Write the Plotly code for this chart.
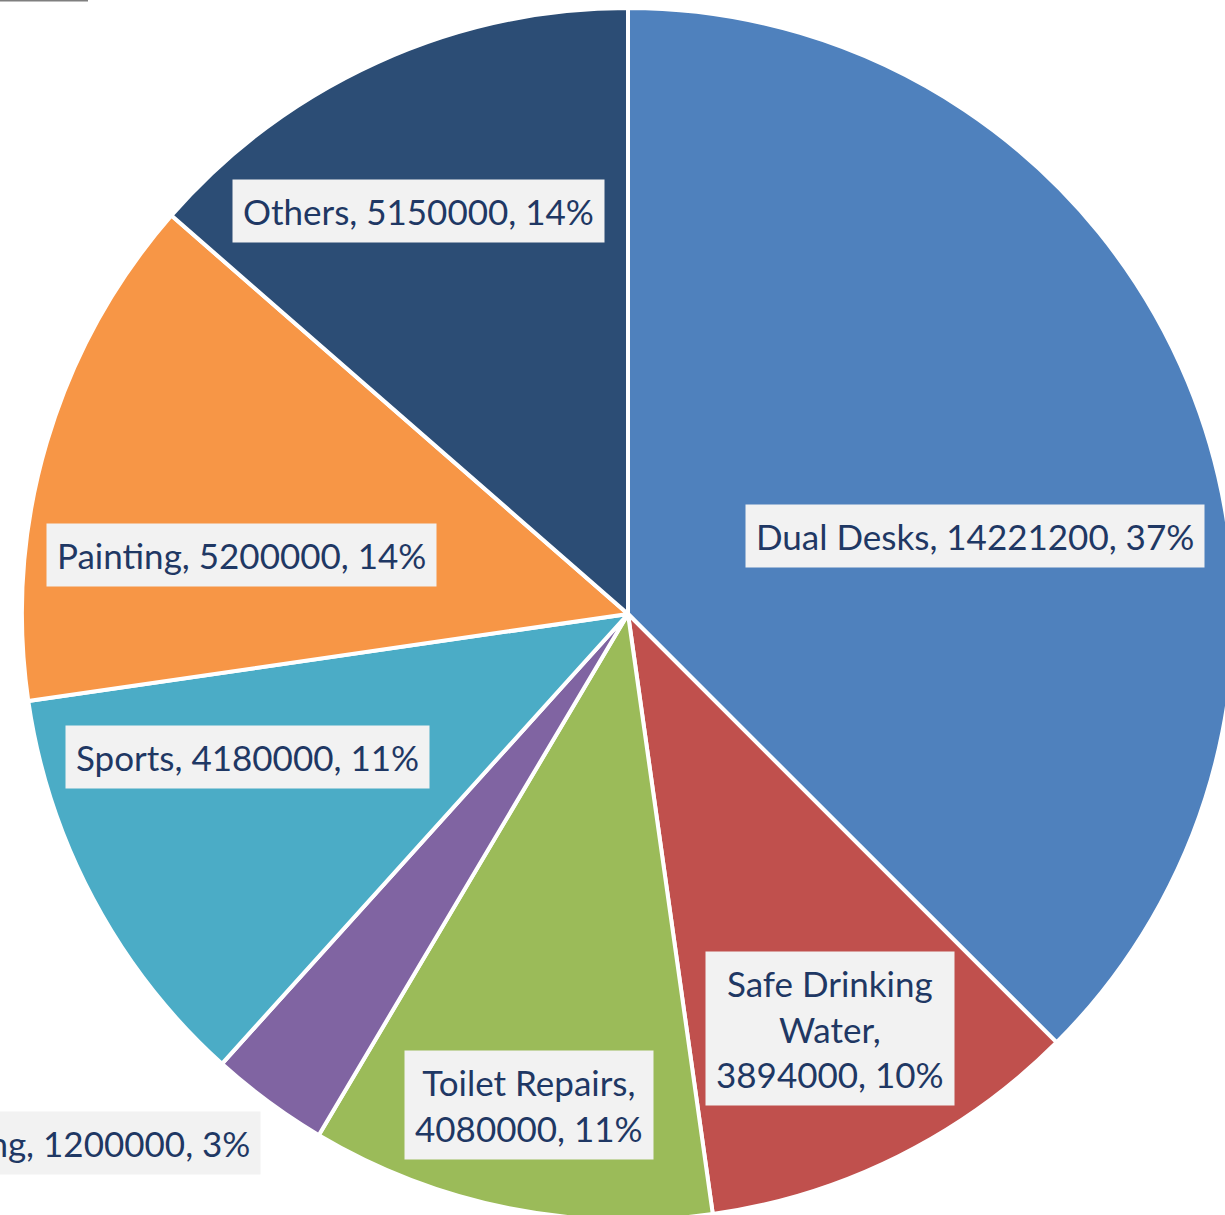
import plotly.graph_objects as go

# Data
categories = ["Dual Desks", "Safe Drinking Water", "Toilet Repairs", "Fencing",
              "Sports", "Painting", "Others"]
values = [14221200, 3894000, 4080000, 1200000, 4180000, 5200000, 5150000]
percent_labels = ["37%", "10%", "11%", "3%", "11%", "14%", "14%"]
label_texts = [
    "Dual Desks, 14221200, 37%",
    "Safe Drinking<br>Water,<br>3894000, 10%",
    "Toilet Repairs,<br>4080000, 11%",
    "Fencing, 1200000, 3%",
    "Sports, 4180000, 11%",
    "Painting, 5200000, 14%",
    "Others, 5150000, 14%",
]
colors = ["#4F81BD", "#C0504D", "#9BBB59", "#8064A2", "#4BACC6", "#F79646", "#2C4D75"]

# Layout geometry (page pixels); the chart is cropped on the right and bottom
W, H = 1245, 1230
CX, CY, R = 628, 614, 606

def fx(px):
    return px / W

def fy(py):
    return 1 - py / H

fig = go.Figure()
fig.add_trace(go.Pie(
    labels=categories,
    values=values,
    sort=False,
    direction="clockwise",
    rotation=0,
    marker=dict(colors=colors, line=dict(color="white", width=4)),
    textinfo="none",
    hoverinfo="label+value+percent",
    showlegend=False,
    domain=dict(x=[fx(CX - R), fx(CX + R)], y=[fy(CY + R), fy(CY - R)]),
))

# label box centres (page px) and anchors
label_pos = [
    (975, 536, "center"),
    (830, 1028, "center"),
    (529, 1105, "center"),
    (261, 1143, "right"),
    (247, 757, "center"),
    (241, 555, "center"),
    (418, 211, "center"),
]
for txt, (px, py, anc) in zip(label_texts, label_pos):
    fig.add_annotation(
        x=fx(px), y=fy(py), xref="paper", yref="paper",
        text=txt, showarrow=False,
        xanchor=anc, yanchor="middle",
        font=dict(family="Lato", size=35, color="#1F3864"),
        bgcolor="#F2F2F2", borderpad=10, align="center",
    )

# thin grey rule at the top-left corner (crop remnant in the reference)
fig.add_shape(type="line", xref="paper", yref="paper",
              x0=0, x1=fx(88), y0=fy(0.5), y1=fy(0.5),
              line=dict(color="#7F7F7F", width=2))

fig.update_layout(
    width=W, height=H,
    margin=dict(l=0, r=0, t=0, b=0),
    paper_bgcolor="white", plot_bgcolor="white",
)
fig.write_html(
    "out.html",
    config={"displayModeBar": False},
    post_script=(
        "document.documentElement.style.margin='0';"
        "document.body.style.margin='0';"
        "document.documentElement.style.overflow='hidden';"
        "document.body.style.overflow='hidden';"
    ),
)
